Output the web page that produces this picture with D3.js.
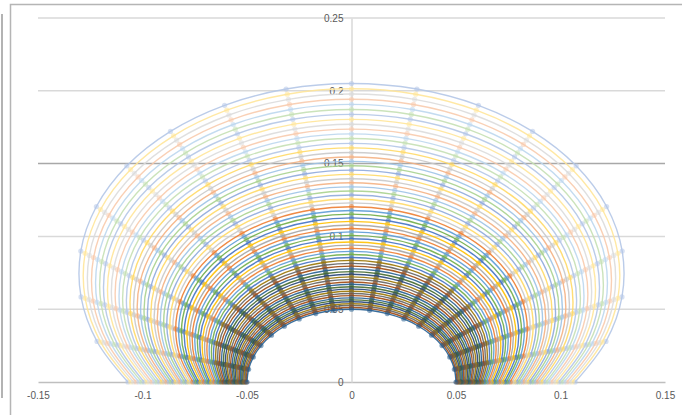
<!DOCTYPE html>
<html>
<head>
<meta charset="utf-8">
<script src="https://cdn.jsdelivr.net/npm/d3@7"></script>
<style>
  html, body { margin: 0; padding: 0; background: #fff; }
  svg { display: block; }
</style>
</head>
<body>
<div id="chart"></div>
<script>
// axis ticks
const xTicks = [-0.15, -0.1, -0.05, 0, 0.05, 0.1, 0.15];
const yTicks = [0, 0.05, 0.1, 0.15, 0.2, 0.25];

// each curve: height at the top and half width where it meets y = 0 (inner -> outer)
const topY = [
  0.0500, 0.0512, 0.0525, 0.0537, 0.0551, 0.0564, 0.0578, 0.0593, 0.0608, 0.0623,
  0.0638, 0.0654, 0.0671, 0.0687, 0.0705, 0.0722, 0.0740, 0.0758, 0.0777, 0.0796,
  0.0815, 0.0835, 0.0855, 0.0876, 0.0897, 0.0918, 0.0940, 0.0962, 0.0984, 0.1007,
  0.1031, 0.1054, 0.1078, 0.1103, 0.1127, 0.1153, 0.1178, 0.1204, 0.1230, 0.1257,
  0.1284, 0.1312, 0.1340, 0.1368, 0.1396, 0.1426, 0.1455, 0.1485, 0.1515, 0.1545,
  0.1576, 0.1608, 0.1639, 0.1672, 0.1704, 0.1737, 0.1770, 0.1804, 0.1838, 0.1872,
  0.1907, 0.1942, 0.1978, 0.2014, 0.2050
];
const footX = [
  0.0500, 0.0504, 0.0509, 0.0514, 0.0519, 0.0524, 0.0529, 0.0534, 0.0540, 0.0545,
  0.0551, 0.0557, 0.0563, 0.0569, 0.0575, 0.0582, 0.0588, 0.0595, 0.0602, 0.0609,
  0.0616, 0.0623, 0.0631, 0.0638, 0.0646, 0.0654, 0.0662, 0.0670, 0.0678, 0.0686,
  0.0695, 0.0704, 0.0712, 0.0721, 0.0731, 0.0740, 0.0749, 0.0759, 0.0768, 0.0778,
  0.0788, 0.0798, 0.0809, 0.0819, 0.0829, 0.0840, 0.0851, 0.0862, 0.0873, 0.0884,
  0.0896, 0.0907, 0.0919, 0.0931, 0.0942, 0.0955, 0.0967, 0.0979, 0.0992, 0.1004,
  0.1017, 0.1030, 0.1043, 0.1056, 0.1070
];
// marker positions along each curve, degrees from right foot (0) to left foot (180)
const markAngles = [0, 10, 20, 30, 40, 50, 60, 70, 80, 90, 100, 110, 120, 130, 140, 150, 160, 170, 180];

// office colours, from dark shades (inner curves) to light tints (outer curves)
const palettes = [
  ["#255E91", "#9E480E", "#636363", "#997300", "#264478", "#43682B"],
  ["#5B9BD5", "#ED7D31", "#A5A5A5", "#FFC000", "#4472C4", "#70AD47"],
  ["#9DC3E6", "#F4B183", "#C9C9C9", "#FFD966", "#8FAADC", "#A9D18E"],
  ["#BDD7EE", "#F8CBAD", "#DBDBDB", "#FFE699", "#B4C7E7", "#C5E0B4"]
];
const bandStart = [0, 22, 38, 52];
const colorOf = i => palettes[d3.bisectRight(bandStart, i) - 1][i % 6];

const width = 682, height = 415;
const x = d3.scaleLinear().domain([-0.15, 0.15]).range([38, 665]);
const y = d3.scaleLinear().domain([0, 0.25]).range([382, 18]);

const svg = d3.select("#chart").append("svg")
  .attr("width", width)
  .attr("height", height)
  .attr("font-family", "Liberation Sans, Arial, sans-serif");

const defs = svg.append("defs");
defs.append("filter").attr("id", "soft")
  .attr("x", "-5%").attr("y", "-5%").attr("width", "110%").attr("height", "110%")
  .append("feGaussianBlur").attr("stdDeviation", 0.7);

// chart frame
svg.append("path")
  .attr("d", `M10.5,${height} V4.5 H${width}`)
  .attr("fill", "none").attr("stroke", "#b5b5b5").attr("stroke-width", 1.5);
svg.append("line")
  .attr("x1", 2).attr("x2", 2).attr("y1", 14).attr("y2", 398)
  .attr("stroke", "#9a9a9a").attr("stroke-width", 1.5);

// horizontal gridlines
svg.append("g")
  .selectAll("line")
  .data(yTicks.slice(1))
  .join("line")
  .attr("x1", x(-0.15)).attr("x2", x(0.15))
  .attr("y1", d => y(d)).attr("y2", d => y(d))
  .attr("stroke", d => d === 0.15 ? "#a8a8a8" : "#d9d9d9")
  .attr("stroke-width", 1.5);

// x axis
const xAxis = svg.append("g")
  .attr("transform", `translate(0,${y(0)})`)
  .call(d3.axisBottom(x).tickValues(xTicks).tickSize(0).tickPadding(10)
    .tickFormat(d => String(d)));
xAxis.select(".domain").attr("stroke", "#bfbfbf").attr("stroke-width", 1.5);
xAxis.selectAll("text").attr("fill", "#595959").attr("font-size", 10);

// y axis through x = 0
const yAxis = svg.append("g")
  .attr("transform", `translate(${x(0)},0)`)
  .call(d3.axisLeft(y).tickValues(yTicks).tickSize(0).tickPadding(8)
    .tickFormat(d => String(d)));
yAxis.select(".domain").attr("stroke", "#d9d9d9").attr("stroke-width", 1.5);
yAxis.selectAll("text").attr("fill", "#595959").attr("font-size", 10);

// build each curve as a circular arc through (±foot, 0) and (0, top)
const curves = topY.map((t, i) => {
  const f = footX[i];
  const c = (t * t - f * f) / (2 * t);
  const r = t - c;
  const b = Math.asin(c / r);
  const pts = markAngles.map(a => {
    const ang = -b + (a / 180) * (Math.PI + 2 * b);
    return [r * Math.cos(ang), c + r * Math.sin(ang)];
  });
  return { i, pts };
}).reverse();

const line = d3.line()
  .x(d => x(d[0]))
  .y(d => y(d[1]))
  .curve(d3.curveCatmullRom);

const plot = svg.append("g").attr("filter", "url(#soft)");

const series = plot.selectAll("g.series")
  .data(curves)
  .join("g")
  .attr("class", "series");

series.append("path")
  .attr("d", d => line(d.pts))
  .attr("fill", "none")
  .attr("stroke", d => colorOf(d.i))
  .attr("stroke-width", 1.4)
  .attr("stroke-opacity", 0.9);

series.each(function(d) {
  d3.select(this).selectAll("circle")
    .data(d.pts)
    .join("circle")
    .attr("cx", p => x(p[0]))
    .attr("cy", p => y(p[1]))
    .attr("r", 2.6)
    .attr("fill", colorOf(d.i))
    .attr("fill-opacity", 0.55);
});
</script>
</body>
</html>
